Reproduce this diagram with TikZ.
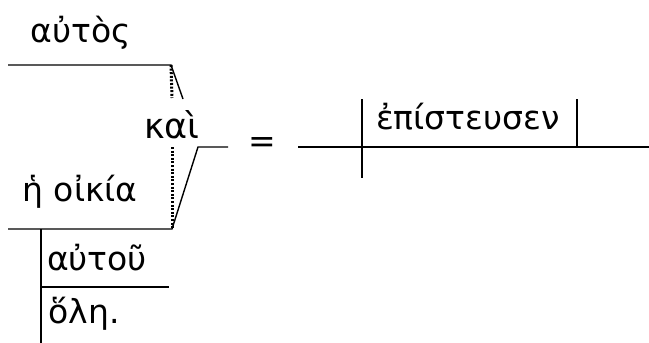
\documentclass[tikz,border=0pt]{standalone}
\usepackage{fontspec}
\setmainfont{DejaVu Sans}
\begin{document}
\begin{tikzpicture}[x=1pt,y=-1pt,
  ln/.style={line width=1.4pt},
  dotln/.style={line width=3pt,dash pattern=on 2pt off 1.6pt},
  wd/.style={inner sep=0pt,font=\fontsize{33}{36}\selectfont}]
\useasboundingbox (0,0) rectangle (649,343);
% coordinates
\coordinate (tl) at (8,65);
\coordinate (tr) at (171,65);
\coordinate (ts) at (183,99);
\coordinate (td) at (172,98);
\coordinate (bl) at (8,229);
\coordinate (br) at (172,229);
\coordinate (bd) at (172,147);
\coordinate (kl) at (198,147);
\coordinate (kr) at (228,147);
\coordinate (ml) at (298,147);
\coordinate (mr) at (649,147);
\coordinate (vt) at (362,99);
\coordinate (vb) at (362,178);
\coordinate (rt) at (577,99);
\coordinate (rb) at (577,147);
\coordinate (m1) at (41,229);
\coordinate (m1b) at (41,343);
\coordinate (m2) at (41,287);
\coordinate (m2r) at (169,287);
% texts
\node[wd] (autos) at (81,33) {αὐτὸς};
\node[wd,font=\fontsize{35}{38}\selectfont] (kai) at (172,125) {καὶ};
\node[wd] (oikia) at (80,192) {ἡ οἰκία};
\node[wd] (autou) at (97,258) {αὐτοῦ};
\node[wd] (ole) at (84,314) {ὅλη.};
\node[wd] (eq) at (262,145) {=};
\node[wd] (ep) at (468,117) {ἐπίστευσεν};
% lines
\draw[ln] (tl) -- (tr) -- (ts);
\draw[dotln] (tr) -- (td);
\draw[ln] (bl) -- (br) -- (kl) -- (kr);
\draw[dotln] (bd) -- (br);
\draw[ln] (ml) -- (mr);
\draw[ln] (vt) -- (vb);
\draw[ln] (rt) -- (rb);
\draw[ln] (m1) -- (m1b);
\draw[ln] (m2) -- (m2r);
\end{tikzpicture}
\end{document}
